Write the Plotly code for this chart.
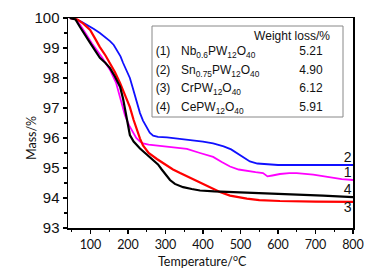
import plotly.graph_objects as go

# Data (Temperature °C, Mass %)
T_blue = [45, 60, 75, 91, 108, 125, 140, 152, 162, 170, 180, 187, 197, 205, 212, 219, 226, 232, 240, 250, 258, 267, 280, 304, 339, 374, 400, 427, 455, 475, 491, 508, 525, 545, 570, 600, 650, 700, 800]
M_blue = [100, 99.96, 99.88, 99.77, 99.64, 99.5, 99.36, 99.23, 99.1, 98.93, 98.72, 98.5, 98.25, 98.0, 97.7, 97.37, 97.08, 96.83, 96.58, 96.35, 96.18, 96.08, 96.04, 96.02, 95.97, 95.93, 95.88, 95.82, 95.72, 95.62, 95.5, 95.35, 95.22, 95.15, 95.12, 95.1, 95.1, 95.1, 95.1]

T_mag = [45, 60, 72, 85, 104, 130, 152, 168, 180, 192, 203, 213, 222, 232, 240, 255, 285, 320, 357, 392, 427, 450, 472, 495, 517, 540, 560, 566, 572, 585, 605, 630, 650, 694, 738, 770, 800]
M_mag = [100, 99.95, 99.78, 99.52, 99.15, 98.7, 98.27, 97.85, 97.3, 96.75, 96.42, 96.17, 96.0, 95.88, 95.82, 95.78, 95.74, 95.7, 95.64, 95.5, 95.37, 95.2, 95.05, 94.95, 94.9, 94.86, 94.83, 94.78, 94.72, 94.75, 94.8, 94.83, 94.83, 94.78, 94.68, 94.63, 94.6]

T_red = [45, 65, 80, 99, 112, 125, 140, 152, 165, 179, 192, 205, 215, 224, 232, 240, 255, 277, 300, 320, 339, 365, 392, 420, 445, 472, 495, 517, 550, 605, 700, 800]
M_red = [100, 99.95, 99.82, 99.6, 99.32, 99.03, 98.75, 98.5, 98.2, 97.83, 97.45, 97.03, 96.6, 96.25, 95.98, 95.75, 95.5, 95.3, 95.1, 94.95, 94.83, 94.68, 94.52, 94.35, 94.2, 94.08, 94.02, 93.98, 93.93, 93.9, 93.88, 93.87]

T_blk = [45, 60, 72, 85, 99, 112, 125, 140, 152, 165, 179, 187, 195, 205, 215, 232, 250, 267, 280, 290, 302, 312, 325, 347, 370, 392, 430, 472, 550, 650, 720, 800]
M_blk = [100, 99.95, 99.7, 99.43, 99.17, 98.92, 98.67, 98.5, 98.33, 98.05, 97.7, 97.3, 96.75, 96.1, 95.88, 95.65, 95.45, 95.27, 95.12, 94.95, 94.75, 94.6, 94.47, 94.36, 94.3, 94.25, 94.22, 94.2, 94.17, 94.13, 94.08, 94.03]

series_names = ["Nb<sub>0.6</sub>PW<sub>12</sub>O<sub>40</sub>", "Sn<sub>0.75</sub>PW<sub>12</sub>O<sub>40</sub>",
                "CrPW<sub>12</sub>O<sub>40</sub>", "CePW<sub>12</sub>O<sub>40</sub>"]
row_numbers = ["(1)", "(2)", "(3)", "(4)"]
weight_loss = ["5.21", "4.90", "6.12", "5.91"]
curve_labels = ["2", "1", "4", "3"]
curve_label_y = [95.1, 94.6, 94.03, 93.87]

# layout helpers: pixel position inside plot area -> data coords
PL, PR, PT, PB = 68, 353, 18, 228
X0, X1, Y0, Y1 = 40, 800, 93, 100


def dx(px):
    return X0 + (px - PL) / (PR - PL) * (X1 - X0)


def dy(py):
    return Y1 - (py - PT) / (PB - PT) * (Y1 - Y0)


fig = go.Figure()
fig.add_trace(go.Scatter(x=T_blue, y=M_blue, mode="lines", line=dict(color="#1010ff", width=1.8)))
fig.add_trace(go.Scatter(x=T_mag, y=M_mag, mode="lines", line=dict(color="#ff00ff", width=1.8)))
fig.add_trace(go.Scatter(x=T_red, y=M_red, mode="lines", line=dict(color="#ff0000", width=2.2)))
fig.add_trace(go.Scatter(x=T_blk, y=M_blk, mode="lines", line=dict(color="#000000", width=2.2)))

lfont = dict(family="Liberation Sans, Arial", size=12, color="#111")
row_y = [52, 71, 89, 108]
fig.add_trace(go.Scatter(x=[dx(292)], y=[dy(37)], mode="text", text=["Weight loss/%"],
                         textposition="middle center", textfont=lfont, hoverinfo="skip"))
fig.add_trace(go.Scatter(x=[dx(163)] * 4, y=[dy(v) for v in row_y], mode="text", text=row_numbers,
                         textposition="middle center", textfont=lfont, hoverinfo="skip"))
fig.add_trace(go.Scatter(x=[dx(181)] * 4, y=[dy(v) for v in row_y], mode="text", text=series_names,
                         textposition="middle right", textfont=lfont, hoverinfo="skip"))
fig.add_trace(go.Scatter(x=[dx(311)] * 4, y=[dy(v) for v in row_y], mode="text", text=weight_loss,
                         textposition="middle center", textfont=lfont, hoverinfo="skip"))
fig.add_trace(go.Scatter(x=[796] * 4, y=curve_label_y, mode="text", text=curve_labels,
                         textposition=["top left", "top left", "top left", "bottom left"],
                         textfont=dict(family="Liberation Sans, Arial", size=14, color="#111"), hoverinfo="skip"))

fig.update_layout(
    width=383, height=269,
    margin=dict(l=PL, r=383 - PR, t=PT, b=269 - PB),
    paper_bgcolor="white", plot_bgcolor="white",
    showlegend=False,
    xaxis=dict(range=[X0, X1], tickvals=[100, 200, 300, 400, 500, 600, 700, 800], automargin=False,
               ticks="outside", ticklen=4, tickwidth=1.2, tickcolor="black",
               showline=True, linecolor="black", linewidth=1.5, mirror=True,
               showgrid=False, zeroline=False,
               tickfont=dict(family="Lato", size=12.5, color="#111"),
               minor=dict(dtick=50, tick0=0, ticks="outside", ticklen=2.5, tickcolor="black")),
    yaxis=dict(range=[Y0, Y1], dtick=1, automargin=False,
               ticks="outside", ticklen=4, tickwidth=1.2, tickcolor="black",
               showline=True, linecolor="black", linewidth=1.5, mirror=True,
               showgrid=False, zeroline=False,
               tickfont=dict(family="Liberation Sans, Arial", size=15, color="#111"),
               minor=dict(dtick=0.5, ticks="outside", ticklen=2.5, tickcolor="black")),
)

fig.add_annotation(xref="paper", yref="paper", x=-(PL - 31) / (PR - PL), y=(PB - 138) / (PB - PT),
                   text="Mass/%", textangle=-90, showarrow=False, xanchor="center", yanchor="middle",
                   font=dict(family="Lato", size=12.5, color="#111"))
fig.add_annotation(xref="paper", yref="paper", x=(202 - PL) / (PR - PL), y=-(260 - PB) / (PB - PT),
                   text="Temperature/<sup>o</sup>C", showarrow=False, xanchor="center", yanchor="middle",
                   font=dict(family="Lato", size=12.5, color="#111"))

# legend box (drawn under the text traces)
fig.add_shape(type="rect", xref="paper", yref="paper", layer="below",
              x0=(152 - PL) / (PR - PL), x1=(343 - PL) / (PR - PL),
              y0=(PB - 117) / (PB - PT), y1=(PB - 26) / (PB - PT),
              line=dict(color="#888", width=1), fillcolor="white")

fig.write_html("out.html", config={"displayModeBar": False, "staticPlot": True},
               post_script="document.body.style.margin='0';")
